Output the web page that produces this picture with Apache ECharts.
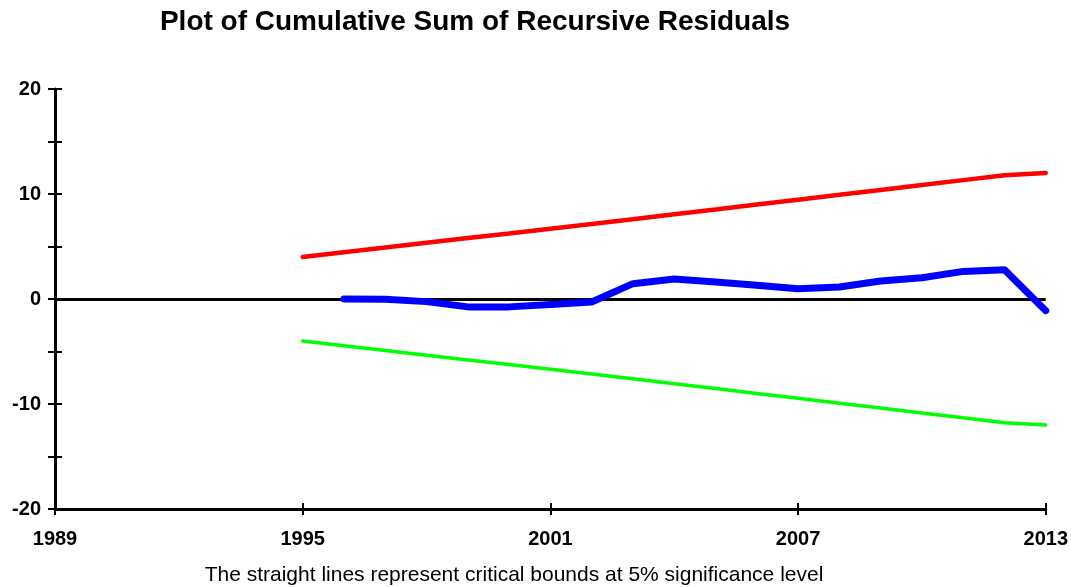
<!DOCTYPE html>
<html>
<head>
<meta charset="utf-8">
<script src="https://cdn.jsdelivr.net/npm/echarts@6/dist/echarts.min.js"></script>
<style>
html,body{margin:0;padding:0;background:#fff;}
#main{width:1071px;height:587px;}
</style>
</head>
<body>
<div id="main"></div>
<script>
var years = [];
for (var y = 1989; y <= 2013; y++) years.push(String(y));

// cusum of recursive residuals, 1996-2013
var cusumYears = ['1996','1997','1998','1999','2000','2001','2002','2003','2004','2005','2006','2007','2008','2009','2010','2011','2012','2013'];
var cusum = [0.0, -0.03, -0.25, -0.75, -0.75, -0.53, -0.28, 1.46, 1.9, 1.62, 1.3, 0.98, 1.14, 1.71, 2.03, 2.63, 2.79, -1.11];

// 5% critical bounds, 1995-2013
var boundYears = ['1995','1996','1997','1998','1999','2000','2001','2002','2003','2004','2005','2006','2007','2008','2009','2010','2011','2012','2013'];
var upper = [4.0, 4.45, 4.9, 5.35, 5.8, 6.24, 6.69, 7.14, 7.6, 8.07, 8.53, 9.0, 9.46, 9.92, 10.39, 10.85, 11.32, 11.78, 12.0];
var lower = [-4.0, -4.45, -4.9, -5.35, -5.8, -6.24, -6.69, -7.14, -7.6, -8.07, -8.53, -9.0, -9.46, -9.92, -10.39, -10.85, -11.32, -11.78, -12.0];

var yLabels = [-20, -10, 0, 10, 20];

function pairs(xs, vs) {
	var out = [];
	for (var i = 0; i < xs.length; i++) out.push([xs[i], vs[i]]);
	return out;
}

var fontFam = '"Liberation Sans", Arial, sans-serif';

option = {
	animation: false,
	title: {
		text: 'Plot of Cumulative Sum of Recursive Residuals',
		left: 470,
		textAlign: 'center',
		top: 3,
		textStyle: { fontFamily: fontFam, fontSize: 28, fontWeight: 'bold', color: '#000' }
	},
	graphic: [{
		type: 'text',
		x: 514,
		y: 575,
		style: {
			text: 'The straight lines represent critical bounds at 5% significance level',
			font: '21px ' + fontFam,
			fill: '#000',
			align: 'center',
			verticalAlign: 'middle'
		}
	}],
	grid: { left: 55, right: 24, top: 89, bottom: 78 },
	xAxis: [{
		type: 'category',
		data: years,
		boundaryGap: false,
		axisLine: { onZero: false, lineStyle: { color: '#000', width: 3 } },
		axisTick: { show: true, interval: 5, length: 6, lineStyle: { color: '#000', width: 2 } },
		axisLabel: { interval: 5, margin: 20, color: '#000', fontFamily: fontFam, fontSize: 20, fontWeight: 'bold' },
		splitLine: { show: false }
	}, {
		type: 'category',
		data: years,
		position: 'bottom',
		boundaryGap: false,
		axisLine: { show: false, onZero: false },
		axisTick: { show: true, inside: true, interval: 5, length: 6, lineStyle: { color: '#000', width: 2 } },
		axisLabel: { show: false },
		splitLine: { show: false }
	}],
	yAxis: [{
		type: 'value',
		min: -20,
		max: 20,
		interval: 5,
		axisLine: { show: true, onZero: false, lineStyle: { color: '#000', width: 3 } },
		axisTick: { show: true, length: 7, lineStyle: { color: '#000', width: 2 } },
		axisLabel: {
			margin: 14,
			color: '#000',
			fontFamily: fontFam,
			fontSize: 20,
			fontWeight: 'bold',
			formatter: function (v) { return yLabels.indexOf(v) >= 0 ? String(v) : ''; }
		},
		splitLine: { show: false }
	}, {
		type: 'value',
		min: -20,
		max: 20,
		interval: 5,
		position: 'left',
		axisLine: { show: false, onZero: false },
		axisTick: { show: true, inside: true, length: 7, lineStyle: { color: '#000', width: 2 } },
		axisLabel: { show: false },
		splitLine: { show: false }
	}],
	series: [{
		name: 'upper',
		type: 'line',
		data: pairs(boundYears, upper),
		symbol: 'none',
		lineStyle: { color: '#ff0000', width: 4.5, cap: 'round' },
		markLine: {
			silent: true,
			symbol: 'none',
			label: { show: false },
			lineStyle: { color: '#000', width: 3, type: 'solid' },
			data: [{ yAxis: 0 }]
		}
	}, {
		name: 'lower',
		type: 'line',
		data: pairs(boundYears, lower),
		symbol: 'none',
		lineStyle: { color: '#00ff00', width: 3.5, cap: 'round' }
	}, {
		name: 'cusum',
		type: 'line',
		data: pairs(cusumYears, cusum),
		symbol: 'none',
		z: 5,
		lineStyle: { color: '#0000ff', width: 7, cap: 'round', join: 'round' }
	}]
};

var myChart = echarts.init(document.getElementById('main'));
myChart.setOption(option);
</script>
</body>
</html>
